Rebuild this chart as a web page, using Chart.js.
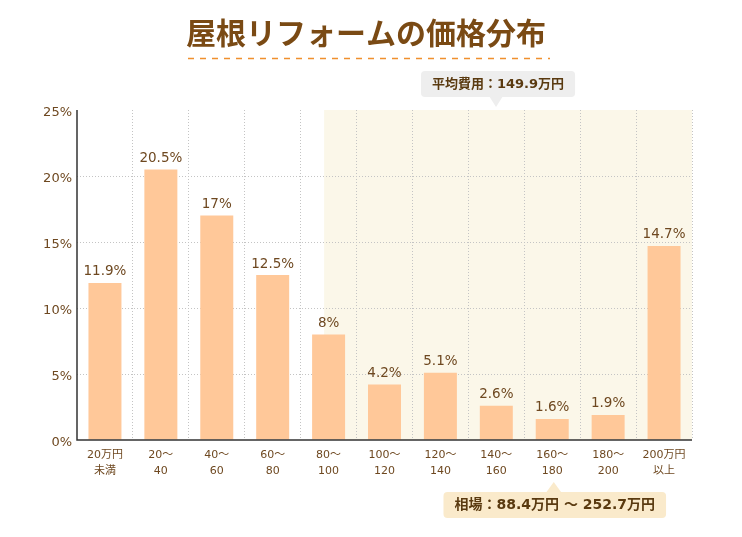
<!DOCTYPE html>
<html>
<head>
<meta charset="utf-8">
<script src="https://cdn.jsdelivr.net/npm/chart.js@4.4.1/dist/chart.umd.min.js"></script>
<style>
  html, body { margin: 0; padding: 0; background: #fff; }
  #wrap { width: 742px; height: 537px; }
</style>
</head>
<body>
<div id="wrap"><canvas id="grafico" width="742" height="537"></canvas></div>
<script>
// 屋根リフォームの価格分布
const titulo = '屋根リフォームの価格分布';
const categorias = [
    ['20万円', '未満'], ['20～', '40'], ['40～', '60'], ['60～', '80'], ['80～', '100'],
    ['100～', '120'], ['120～', '140'], ['140～', '160'], ['160～', '180'], ['180～', '200'],
    ['200万円', '以上']
];
const porcentagens = [11.9, 20.5, 17, 12.5, 8, 4.2, 5.1, 2.6, 1.6, 1.9, 14.7];
const rotulosDados = ['11.9%', '20.5%', '17%', '12.5%', '8%', '4.2%', '5.1%', '2.6%', '1.6%', '1.9%', '14.7%'];
const ticksY = [0, 5, 10, 15, 20, 25];
const larguraFaixa = 20;          // 万円 por categoria
const faixaMin = 88.4;            // 相場 下限
const faixaMax = 252.7;           // 相場 上限
const media = 149.9;              // 平均費用
const textoMedia = '平均費用：149.9万円';
const textoFaixa = '相場：88.4万円 〜 252.7万円';

const marrom = '#6e4820';
const fonteNum = '"DejaVu Sans", "Noto Sans CJK JP", sans-serif';

// valor (万円) -> pixel no eixo x, usando a escala de categorias
function valorParaPx(chart, v, limitar) {
    const x = chart.scales.x;
    const passo = x.getPixelForValue(1) - x.getPixelForValue(0);
    const inicio = x.getPixelForValue(0) - passo / 2;
    let idx = v / larguraFaixa;
    if (limitar) idx = Math.min(idx, categorias.length);
    return inicio + idx * passo;
}

function caixaArredondada(ctx, x, y, w, h, r) {
    ctx.beginPath();
    ctx.moveTo(x + r, y);
    ctx.lineTo(x + w - r, y);
    ctx.quadraticCurveTo(x + w, y, x + w, y + r);
    ctx.lineTo(x + w, y + h - r);
    ctx.quadraticCurveTo(x + w, y + h, x + w - r, y + h);
    ctx.lineTo(x + r, y + h);
    ctx.quadraticCurveTo(x, y + h, x, y + h - r);
    ctx.lineTo(x, y + r);
    ctx.quadraticCurveTo(x, y, x + r, y);
    ctx.closePath();
}

const pluginExtras = {
    id: 'extras',
    beforeDraw(chart) {
        const ctx = chart.ctx;
        const a = chart.chartArea;
        // faixa do 相場
        const x1 = valorParaPx(chart, faixaMin, true);
        const x2 = valorParaPx(chart, faixaMax, true);
        ctx.save();
        ctx.fillStyle = '#fbf7e9';
        ctx.fillRect(x1, a.top, x2 - x1, a.bottom - a.top);
        ctx.restore();
    },
    afterDatasetsDraw(chart) {
        const ctx = chart.ctx;
        const a = chart.chartArea;
        ctx.save();

        // eixos
        ctx.strokeStyle = '#333';
        ctx.lineWidth = 1.5;
        ctx.beginPath();
        ctx.moveTo(a.left, a.top);
        ctx.lineTo(a.left, a.bottom);
        ctx.lineTo(a.right, a.bottom);
        ctx.stroke();

        // rótulos dos dados
        const meta = chart.getDatasetMeta(0);
        ctx.font = '13.5px ' + fonteNum;
        ctx.fillStyle = marrom;
        ctx.textAlign = 'center';
        ctx.textBaseline = 'middle';
        meta.data.forEach((bar, i) => {
            ctx.fillText(rotulosDados[i], bar.x, bar.y - 11);
        });

        // título
        ctx.font = 'bold 30px "Noto Sans CJK JP", sans-serif';
        ctx.fillStyle = '#7a4a14';
        ctx.fillText(titulo, 366, 33);
        ctx.strokeStyle = '#f0902e';
        ctx.lineWidth = 1.5;
        ctx.setLineDash([6, 6]);
        ctx.beginPath();
        ctx.moveTo(188, 58.5);
        ctx.lineTo(550, 58.5);
        ctx.stroke();
        ctx.setLineDash([]);

        // balão 平均費用
        ctx.font = 'bold 13px ' + fonteNum;
        const xm = valorParaPx(chart, media, false);
        const wm = ctx.measureText(textoMedia).width + 22;
        const bxm = xm - wm / 2 + 2;
        ctx.fillStyle = '#eeeeee';
        caixaArredondada(ctx, bxm, 71, wm, 26, 4);
        ctx.fill();
        ctx.beginPath();
        ctx.moveTo(xm - 7, 96);
        ctx.lineTo(xm + 7, 96);
        ctx.lineTo(xm, 107);
        ctx.closePath();
        ctx.fill();
        ctx.fillStyle = '#5a3a10';
        ctx.fillText(textoMedia, bxm + wm / 2, 84.5);

        // balão 相場
        ctx.font = 'bold 14px ' + fonteNum;
        const xr = (valorParaPx(chart, faixaMin, false) + valorParaPx(chart, faixaMax, false)) / 2;
        const wr = ctx.measureText(textoFaixa).width + 22;
        const bxr = xr - wr / 2 + 1;
        ctx.fillStyle = '#faeacb';
        caixaArredondada(ctx, bxr, 492, wr, 26, 4);
        ctx.fill();
        ctx.beginPath();
        ctx.moveTo(xr - 8, 493);
        ctx.lineTo(xr + 8, 493);
        ctx.lineTo(xr, 482);
        ctx.closePath();
        ctx.fill();
        ctx.fillStyle = '#5a3a10';
        ctx.fillText(textoFaixa, bxr + wr / 2, 505.5);

        ctx.restore();
    }
};

const ctx = document.getElementById('grafico').getContext('2d');
new Chart(ctx, {
    type: 'bar',
    data: {
        labels: categorias,
        datasets: [{
            data: porcentagens,
            backgroundColor: '#ffc899',
            borderWidth: 0,
            categoryPercentage: 1,
            barPercentage: 0.59
        }]
    },
    options: {
        responsive: false,
        animation: false,
        devicePixelRatio: 1,
        layout: { padding: { left: 0, right: 50, top: 110, bottom: 0 } },
        plugins: {
            legend: { display: false },
            tooltip: { enabled: false },
            title: { display: false }
        },
        scales: {
            x: {
                afterFit: (s) => { s.height = 97; },
                border: { display: false, dash: [1, 2] },
                grid: {
                    offset: true,
                    drawTicks: false,
                    color: (c) => (c.index === 0 || c.index >= categorias.length) ? 'rgba(0,0,0,0)' : '#c4c4c4'
                },
                ticks: {
                    color: marrom,
                    padding: 7,
                    maxRotation: 0,
                    autoSkip: false,
                    font: { family: fonteNum, size: 11, lineHeight: 1.45 }
                }
            },
            y: {
                min: 0,
                max: 25,
                afterFit: (s) => { s.width = 77; },
                afterBuildTicks: (s) => { s.ticks = ticksY.map(v => ({ value: v })); },
                border: { display: false, dash: [1, 2] },
                grid: {
                    drawTicks: false,
                    color: (c) => (c.index === 0 || c.index === ticksY.length - 1) ? 'rgba(0,0,0,0)' : '#c4c4c4'
                },
                ticks: {
                    color: marrom,
                    padding: 5,
                    labelOffset: 3,
                    font: { family: fonteNum, size: 13 },
                    callback: (v) => v + '%'
                }
            }
        }
    },
    plugins: [pluginExtras]
});
</script>
</body>
</html>
